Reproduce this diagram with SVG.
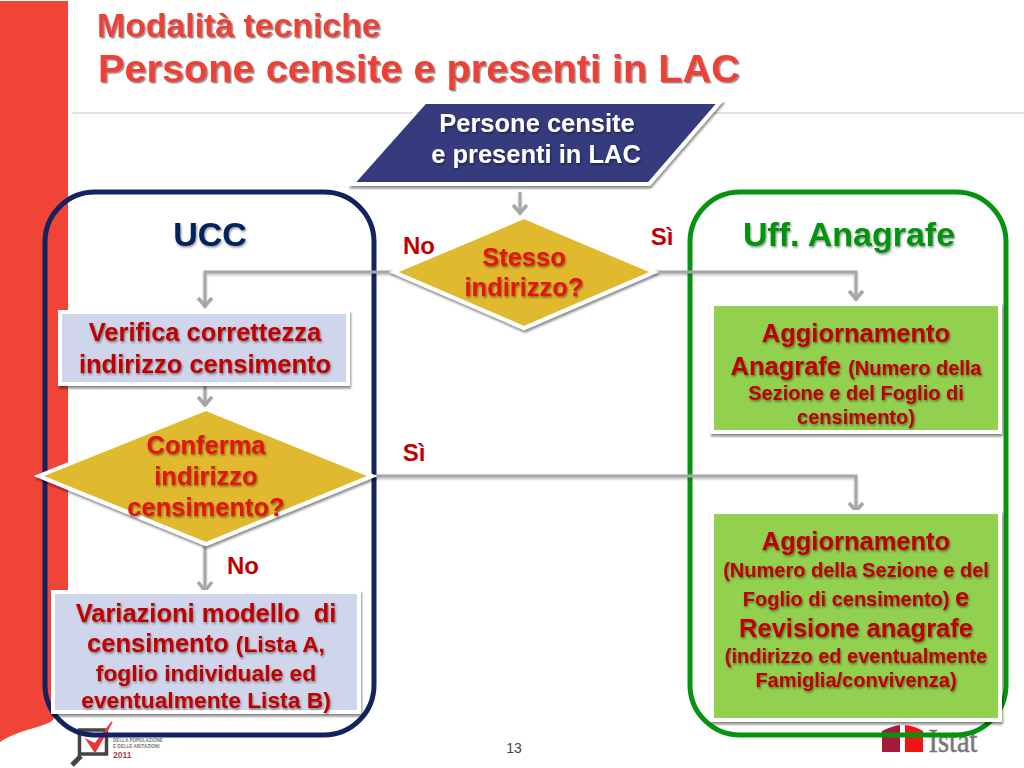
<svg xmlns="http://www.w3.org/2000/svg" width="1024" height="768" viewBox="0 0 1024 768">
<style>
text{font-family:"Liberation Sans",Arial,sans-serif;font-weight:bold;text-anchor:middle}
.t{fill:#c00000;filter:url(#ts)}
.r{fill:#e3120f;filter:url(#ts)}
.c{fill:none;stroke:#a6a6a6;stroke-width:3;filter:url(#cs)}
.a{fill:none;stroke:#a6a6a6;stroke-width:3.5}
.ws{stroke:#fff;stroke-width:4;stroke-linejoin:miter;filter:url(#bs)}
.l{font-size:25.5px}.m{font-size:20px}.n{font-size:22.8px}.lab{font-size:24px;fill:#c00000}
.tiny{font-size:4.6px;fill:#777;text-anchor:start}
.head{fill:#ee3f35;text-anchor:start;filter:url(#hs)}
</style>
<defs>
<filter id="ts" x="-10%" y="-20%" width="120%" height="150%"><feDropShadow dx="1" dy="1.5" stdDeviation="1" flood-color="#000" flood-opacity=".45"/></filter>
<filter id="hs" x="-5%" y="-20%" width="110%" height="150%"><feDropShadow dx="1.5" dy="1.5" stdDeviation=".5" flood-color="#777" flood-opacity=".8"/></filter>
<filter id="bs" x="-5%" y="-10%" width="110%" height="120%"><feDropShadow dx="1" dy="2.5" stdDeviation="1.3" flood-color="#000" flood-opacity=".45"/></filter>
<filter id="cs" filterUnits="userSpaceOnUse" x="0" y="0" width="1024" height="768"><feDropShadow dx="0" dy="1.5" stdDeviation="1" flood-color="#000" flood-opacity=".3"/></filter>
</defs>
<rect width="1024" height="768" fill="#fff"/>
<path d="M0 1H68V588C68 640 64 690 53 720C44 728 22 728 0 742Z" fill="#f04437"/>
<path d="M72 113H1024" stroke="#c4c4c4" stroke-width="1.2"/>
<g id="title">
<text class="head" x="97" y="37" font-size="33.8">Modalità tecniche</text>
<text class="head" x="98" y="82" font-size="39.7">Persone censite e presenti in LAC</text>
</g>
<g id="logo-censimento">
<path d="M79.500 730H106.500V754H79.500Z" fill="none" stroke="#444" stroke-width="3.500"/>
<path d="M87 740L95 752L112 722L95 744Z" fill="#e8363a" stroke="#e8363a" stroke-width="1.500"/>
<path d="M81 756L72 765" stroke="#444" stroke-width="5"/>
<text class="tiny" x="113" y="742">DELLA POPOLAZIONE</text>
<text class="tiny" x="113" y="748">E DELLE ABITAZIONI</text>
<text x="113" y="758" font-size="8.500" fill="#a8433f" style="text-anchor:start">2011</text>
</g>
<g id="logo-istat">
<path d="M882 752V731Q892 726 900 725V752Z" fill="#a51c3a"/>
<path d="M905 752V725Q915 726 923 731V752Z" fill="#f01414"/>
<text x="953" y="752" font-size="33" fill="#777" stroke="#777" stroke-width=".5" textLength="49" lengthAdjust="spacingAndGlyphs" style="font-family:'Liberation Serif',serif;font-weight:normal">Istat</text>
</g>
<g id="group-ucc">
<rect x="45" y="192" width="329" height="543" rx="50" fill="none" stroke="#14235f" stroke-width="5"/>
<text x="210" y="246" font-size="34" fill="#002060" style="filter:url(#ts)">UCC</text>
</g>
<g id="group-anagrafe">
<rect x="690" y="192" width="316" height="543" rx="50" fill="none" stroke="#069310" stroke-width="5"/>
<text x="849" y="246" font-size="34" fill="#069310" style="filter:url(#ts)">Uff. Anagrafe</text>
</g>
<g id="connectors">
<path class="c" d="M396 272H205V306"/><path class="a" d="M198 298L205 306L212 298"/>
<path class="c" d="M650 272H856V299"/><path class="a" d="M849 291L856 299L863 291"/>
<path class="c" d="M520 192V213"/><path class="a" d="M513 205L520 213L527 205"/>
<path class="c" d="M205 386V405"/><path class="a" d="M198 397L205 405L212 397"/>
<path class="c" d="M205 545V591"/><path class="a" d="M198 582L205 591L212 582"/>
<path class="c" d="M375 476H856V511"/><path class="a" d="M849 503L856 511L863 503"/>
</g>
<g id="n-start">
<polygon class="ws" points="425,102 720,102 649,184 352,184" fill="#343b7d"/>
<text x="537" y="132" font-size="25.500" fill="#fff" style="filter:url(#ts)">Persone censite</text>
<text x="536" y="163" font-size="25.500" fill="#fff" style="filter:url(#ts)">e presenti in LAC</text>
</g>
<g id="n-stesso">
<polygon class="ws" points="524,217 654,272 524,328 394,272" fill="#e0b92f"/>
<text class="r l" x="524" y="266">Stesso</text>
<text class="r l" x="524" y="296">indirizzo?</text>
</g>
<g id="n-verifica">
<rect class="ws" x="60" y="312" width="288" height="72" fill="#cfd5ea"/>
<text class="t l" x="205" y="341">Verifica correttezza</text>
<text class="t l" x="205" y="373">indirizzo censimento</text>
</g>
<g id="n-conferma">
<polygon class="ws" points="206,409 372,476 206,544 39,476" fill="#e0b92f"/>
<text class="r l" x="206" y="454">Conferma</text>
<text class="r l" x="206" y="485">indirizzo</text>
<text class="r l" x="206" y="516">censimento?</text>
</g>
<g id="n-variazioni">
<rect class="ws" x="53" y="592" width="306" height="120" fill="#cfd5ea"/>
<text class="t l" x="206" y="622">Variazioni modello&#160; di</text>
<text class="t" x="206" y="652"><tspan class="l">censimento </tspan><tspan class="n">(Lista A,</tspan></text>
<text class="t n" x="206" y="681">foglio individuale ed</text>
<text class="t n" x="206" y="708">eventualmente Lista B)</text>
</g>
<g id="n-agg1">
<rect class="ws" x="712" y="304" width="288" height="128" fill="#92d050"/>
<text class="t l" x="856" y="342">Aggiornamento</text>
<text class="t" x="856" y="375"><tspan class="l">Anagrafe </tspan><tspan class="m">(Numero della</tspan></text>
<text class="t m" x="856" y="400">Sezione e del Foglio di</text>
<text class="t m" x="856" y="424">censimento)</text>
</g>
<g id="n-agg2">
<rect class="ws" x="712" y="512" width="288" height="208" fill="#92d050"/>
<text class="t l" x="856" y="550">Aggiornamento</text>
<text class="t m" x="856" y="577">(Numero della Sezione e del</text>
<text class="t" x="856" y="606"><tspan class="m">Foglio di censimento) </tspan><tspan class="l">e</tspan></text>
<text class="t l" x="856" y="637">Revisione anagrafe</text>
<text class="t m" x="856" y="663">(indirizzo ed eventualmente</text>
<text class="t m" x="856" y="687">Famiglia/convivenza)</text>
</g>
<g id="labels">
<text class="lab" x="419" y="254">No</text>
<text class="lab" x="662" y="245">Sì</text>
<text class="lab" x="414" y="461">Sì</text>
<text class="lab" x="243" y="574">No</text>
<text x="514" y="753" font-size="14" fill="#444" style="font-weight:normal">13</text>
</g>
</svg>
